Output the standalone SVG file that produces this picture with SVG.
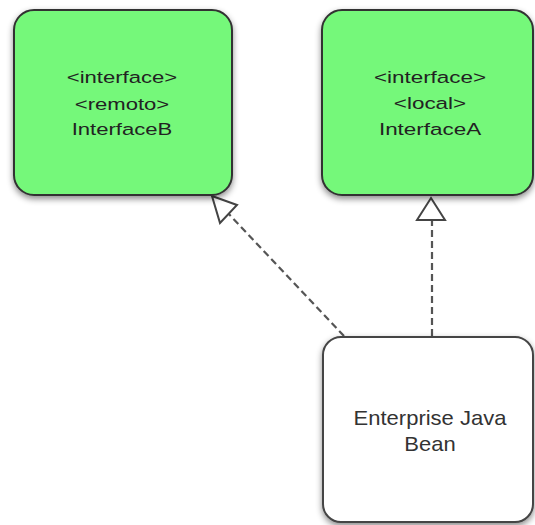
<svg xmlns="http://www.w3.org/2000/svg" width="535" height="525" viewBox="0 0 535 525">
<defs>
<filter id="sh" x="-20%" y="-20%" width="140%" height="140%">
<feDropShadow dx="0" dy="3" stdDeviation="3" flood-color="#000" flood-opacity="0.45"/>
</filter>
<style>
.iface{fill:#74f87a;stroke:#333;stroke-width:2;filter:url(#sh)}
.bean{fill:#fff;stroke:#444;stroke-width:2;filter:url(#sh)}
.t{font-family:"Liberation Sans",Arial,sans-serif;fill:#222;text-anchor:middle}
.s{font-size:17px}
.b{font-size:20px;fill:#333}
.dash{fill:none;stroke:#555;stroke-width:2.2;stroke-dasharray:7 4}
.head{fill:#fff;stroke:#444;stroke-width:2;stroke-linejoin:miter}
</style>
</defs>
<rect width="535" height="525" fill="#fff"/>
<g id="connectors">
<line class="dash" x1="344" y1="336" x2="226" y2="211"/>
<polygon class="head" points="212,196 237,205 220,223"/>
<line class="dash" x1="432" y1="336" x2="432" y2="220"/>
<polygon class="head" points="431,198 445,220 417,220"/>
</g>
<g id="interfaceB">
<rect class="iface" x="14" y="10" width="218" height="185" rx="20"/>
<g transform="translate(122,0) scale(1.3,1)">
<text class="t s" x="0" y="83">&lt;interface&gt;</text>
<text class="t s" x="0" y="110">&lt;remoto&gt;</text>
<text class="t s" x="0" y="135">InterfaceB</text>
</g>
</g>
<g id="interfaceA">
<rect class="iface" x="322" y="10" width="211" height="185" rx="20"/>
<g transform="translate(430,0) scale(1.32,1)">
<text class="t s" x="0" y="83">&lt;interface&gt;</text>
<text class="t s" x="0" y="109">&lt;local&gt;</text>
<text class="t s" x="0" y="135">InterfaceA</text>
</g>
</g>
<g id="ejb">
<rect class="bean" x="323" y="337" width="210" height="185" rx="18"/>
<g transform="translate(430,0) scale(1.1,1)">
<text class="t b" x="0" y="425">Enterprise Java</text>
<text class="t b" x="0" y="451">Bean</text>
</g>
</g>
</svg>
